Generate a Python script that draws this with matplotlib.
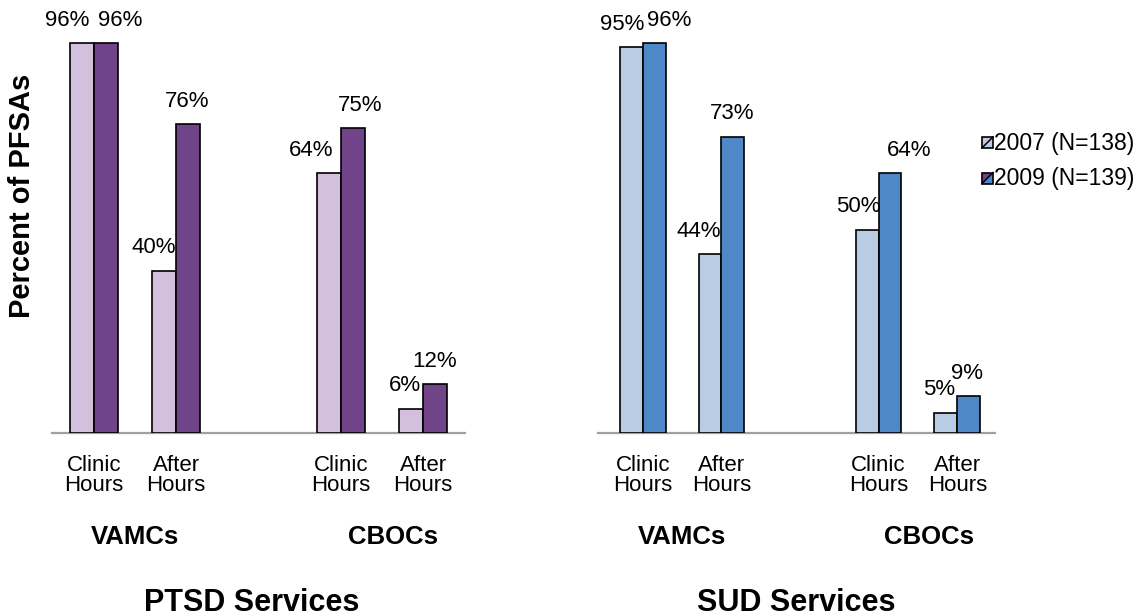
import matplotlib
matplotlib.use('Agg')
import matplotlib.pyplot as plt
import numpy as np
from matplotlib.legend_handler import HandlerBase
from matplotlib.patches import Polygon, Rectangle, Patch
from matplotlib.lines import Line2D

plt.rcParams['font.family'] = ['Liberation Sans', 'DejaVu Sans']

# data
tick_labels = ['Clinic\nHours', 'After\nHours', 'Clinic\nHours', 'After\nHours']
group_labels = ['VAMCs', 'CBOCs']
ptsd_2007 = [96, 40, 64, 6]
ptsd_2009 = [96, 76, 75, 12]
sud_2007 = [95, 44, 50, 5]
sud_2009 = [96, 73, 64, 9]
legend_labels = ['2007 (N=138)', '2009 (N=139)']
panel_titles = ['PTSD Services', 'SUD Services']

# colours
ptsd_light, ptsd_dark = '#D3C0DD', '#71448A'
sud_light, sud_dark = '#B8CCE4', '#4F88C6'

pos = np.array([0, 1, 3, 4])
bw = 0.29
fs = 16

# label nudges in pixels (x shift) for the 2007 / 2009 labels
ptsd_dx_2007 = [-15, -11, -18, -6]
ptsd_dx_2009 = [14, -1, 7, 0]
sud_dx_2007 = [-9, -11, -9, -7]
sud_dx_2009 = [15, -1, 19, -2]
label_dy = 23

fig = plt.figure(figsize=(11.39, 6.16), dpi=100)
H = 616.0
W = 1139.0
ax1 = fig.add_axes([52/W, (H-433)/H, 413/W, 406/H])
ax2 = fig.add_axes([598/W, (H-433)/H, 397/W, 406/H])


def draw_panel(ax, v07, v09, c07, c09, dx07, dx09, xlim, title, title_x):
    b1 = ax.bar(pos - bw/2, v07, bw, color=c07, edgecolor='black', linewidth=1.2, zorder=3)
    b2 = ax.bar(pos + bw/2, v09, bw, color=c09, edgecolor='black', linewidth=1.2, zorder=3)
    for bars, vals, dxs in [(b1, v07, dx07), (b2, v09, dx09)]:
        for r, v, dx in zip(bars, vals, dxs):
            ax.annotate('%d%%' % v, (r.get_x() + r.get_width()/2, v),
                        xytext=(dx, label_dy), textcoords='offset pixels',
                        ha='center', va='center', fontsize=fs, annotation_clip=False)
    ax.set_xlim(*xlim)
    ax.set_ylim(0, 100)
    ax.set_xticks(pos)
    ax.set_xticklabels(tick_labels, fontsize=fs, linespacing=0.95)
    ax.tick_params(axis='x', length=0, pad=16)
    ax.set_yticks([])
    for s in ['top', 'left', 'right']:
        ax.spines[s].set_visible(False)
    ax.spines['bottom'].set_color('#A0A0A0')
    ax.spines['bottom'].set_linewidth(1.6)
    tr = ax.get_xaxis_transform()
    ax.text(0.5, -0.273, group_labels[0], transform=tr, ha='center', va='baseline',
            fontsize=18.5, fontweight='bold')
    ax.text(3.64, -0.273, group_labels[1], transform=tr, ha='center', va='baseline',
            fontsize=18.5, fontweight='bold')
    ax.text(title_x, -0.438, title, transform=ax.transAxes, ha='center', va='baseline',
            fontsize=22, fontweight='bold')


draw_panel(ax1, ptsd_2007, ptsd_2009, ptsd_light, ptsd_dark, ptsd_dx_2007, ptsd_dx_2009,
           (-0.51, 4.51), panel_titles[0], 0.483)
draw_panel(ax2, sud_2007, sud_2009, sud_light, sud_dark, sud_dx_2007, sud_dx_2009,
           (-0.57, 4.48), panel_titles[1], 0.5)

fig.text(22/W, 1 - 196/H, 'Percent of PFSAs', rotation=90, ha='center', va='center',
         fontsize=21, fontweight='bold')


class SplitHandler(HandlerBase):
    def __init__(self, c_top, c_bot):
        super().__init__()
        self.c_top = c_top
        self.c_bot = c_bot

    def create_artists(self, legend, orig_handle, xdescent, ydescent, width, height, fontsize, trans):
        x0, y0 = -xdescent, -ydescent
        s = min(width, height)
        t1 = Polygon([[x0, y0], [x0, y0+s], [x0+s, y0+s]], closed=True,
                     facecolor=self.c_top, edgecolor='none', transform=trans)
        t2 = Polygon([[x0, y0], [x0+s, y0], [x0+s, y0+s]], closed=True,
                     facecolor=self.c_bot, edgecolor='none', transform=trans)
        box = Rectangle((x0, y0), s, s, fill=False, edgecolor='black', linewidth=1.2, transform=trans)
        diag = Line2D([x0, x0+s], [y0, y0+s], color='black', linewidth=1.1, transform=trans)
        return [t1, t2, box, diag]


h1 = Patch(label=legend_labels[0])
h2 = Patch(label=legend_labels[1])
lfs = 16.5
fsp = lfs * 100 / 72.0
fig.legend(handles=[h1, h2], labels=legend_labels,
           handler_map={h1: SplitHandler(ptsd_light, sud_light), h2: SplitHandler(ptsd_dark, sud_dark)},
           loc='center left', bbox_to_anchor=(982/W, 1 - 161/H), frameon=False,
           borderpad=0, borderaxespad=0, fontsize=lfs, handlelength=11/fsp, handleheight=11/fsp,
           handletextpad=1/fsp, labelspacing=0.55)

fig.savefig('out.png', dpi=100)
